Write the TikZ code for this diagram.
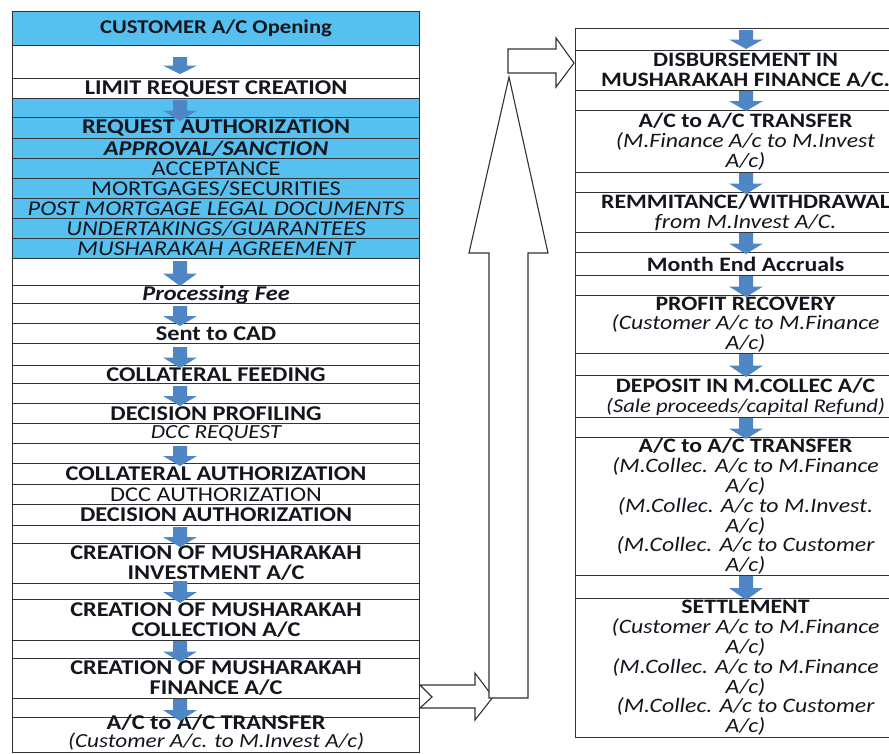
\documentclass[tikz,border=0pt]{standalone}
\usepackage{fontspec}
\setmainfont{Carlito}[FakeStretch=1.16]
\definecolor{cellblue}{RGB}{86,192,240}
\definecolor{arrowblue}{RGB}{79,134,198}
\definecolor{linecol}{RGB}{50,50,50}
\definecolor{txt}{RGB}{20,22,30}
\tikzset{
  cell/.style={draw=linecol, line width=1.1pt, anchor=north west, inner sep=0pt,
    align=center, text=txt},
  lfont/.style={font=\fontsize{21}{20}\selectfont},
  rfont/.style={font=\fontsize{20.5}{19.8}\selectfont},
  bigarrow/.style={draw=linecol, line width=1.1pt, fill=white, line join=miter},
}
\newcommand\rowL[5]{\node[cell, lfont, fill=#4, minimum width=407pt, minimum height={(#3-#2)*1pt}] (#1) at (12,#2) {#5};}
\newcommand\rowR[4]{\node[cell, rfont, fill=white, minimum width=340pt, minimum height={(#3-#2)*1pt}] (#1) at (575,#2) {#4};}
\newcommand\dnarrow[3]{\fill[arrowblue] ({#1-7},#2) -- ({#1+7},#2) -- ({#1+7},{(#2+#3)/2}) -- ({#1+17},{(#2+#3)/2}) -- (#1,#3) -- ({#1-17},{(#2+#3)/2}) -- ({#1-7},{(#2+#3)/2}) -- cycle;}
\begin{document}
\begin{tikzpicture}[x=1pt,y=-1pt]
\useasboundingbox (0,0) rectangle (889,753);
\clip (0,0) rectangle (889,753);
\fill[white] (0,0) rectangle (889,753);
% left column
\rowL{L1}{11}{45}{cellblue}{\fontsize{19.5}{20}\selectfont\bfseries CUSTOMER A/C Opening}
\rowL{L2}{45}{78}{white}{}
\rowL{L3}{78}{98}{white}{\bfseries LIMIT REQUEST CREATION}
\rowL{L4}{98}{117}{cellblue}{}
\rowL{L5}{117}{138}{cellblue}{\bfseries REQUEST AUTHORIZATION}
\rowL{L6}{138}{158}{cellblue}{\bfseries\itshape APPROVAL/SANCTION}
\rowL{L7}{158}{178}{cellblue}{ACCEPTANCE}
\rowL{L8}{178}{198}{cellblue}{MORTGAGES/SECURITIES}
\rowL{L9}{198}{218}{cellblue}{\itshape POST MORTGAGE LEGAL DOCUMENTS}
\rowL{L10}{218}{238}{cellblue}{\itshape UNDERTAKINGS/GUARANTEES}
\rowL{L11}{238}{258}{cellblue}{\itshape MUSHARAKAH AGREEMENT}
\rowL{L12}{258}{285}{white}{}
\rowL{L13}{285}{303}{white}{\bfseries\itshape Processing Fee}
\rowL{L14}{303}{323}{white}{}
\rowL{L15}{323}{343}{white}{\bfseries Sent to CAD}
\rowL{L16}{343}{365}{white}{}
\rowL{L17}{365}{383}{white}{\bfseries COLLATERAL FEEDING}
\rowL{L18}{383}{403}{white}{}
\rowL{L19}{403}{423}{white}{\bfseries DECISION PROFILING}
\rowL{L20}{423}{443}{white}{\fontsize{20}{20}\selectfont\itshape DCC REQUEST}
\rowL{L21}{443}{463}{white}{}
\rowL{L22}{463}{484}{white}{\bfseries COLLATERAL AUTHORIZATION}
\rowL{L23}{484}{504}{white}{DCC AUTHORIZATION}
\rowL{L24}{504}{525}{white}{\bfseries DECISION AUTHORIZATION}
\rowL{L25}{525}{543}{white}{}
\rowL{L26}{543}{583}{white}{\bfseries CREATION OF MUSHARAKAH\\\bfseries INVESTMENT A/C}
\rowL{L27}{583}{599}{white}{}
\rowL{L28}{599}{640}{white}{\bfseries CREATION OF MUSHARAKAH\\\bfseries COLLECTION A/C}
\rowL{L29}{640}{658}{white}{}
\rowL{L30}{658}{698}{white}{\bfseries CREATION OF MUSHARAKAH\\\bfseries FINANCE A/C}
\rowL{L31}{698}{717}{white}{}
\rowL{L32}{717}{752}{white}{}
\node[lfont, align=center, text=txt, inner sep=0pt] (L32t) at ([yshift=3pt]L32.center)
  {\bfseries A/C to A/C TRANSFER\\[-2pt]\fontsize{20}{20}\selectfont\itshape (Customer A/c. to M.Invest A/c)};
% right column
\rowR{R1}{28}{50}{}
\rowR{R2}{50}{90}{\bfseries DISBURSEMENT IN\\\bfseries MUSHARAKAH FINANCE A/C.}
\rowR{R3}{90}{110}{}
\rowR{R4}{110}{172}{\bfseries A/C to A/C TRANSFER\\\itshape (M.Finance A/c to M.Invest\\\itshape A/c)}
\rowR{R5}{172}{192}{}
\rowR{R6}{192}{232}{\bfseries REMMITANCE/WITHDRAWAL\\\itshape from M.Invest A/C.}
\rowR{R7}{232}{252}{}
\rowR{R8}{252}{275}{\bfseries Month End Accruals}
\rowR{R9}{275}{295}{}
\rowR{R10}{295}{353}{\bfseries PROFIT RECOVERY\\\itshape (Customer A/c to M.Finance\\\itshape A/c)}
\rowR{R11}{353}{375}{}
\rowR{R12}{375}{417}{\bfseries DEPOSIT IN M.COLLEC A/C\\\fontsize{19.5}{19.8}\selectfont\itshape (Sale proceeds/capital Refund)}
\rowR{R13}{417}{437}{}
\rowR{R14}{437}{575}{\bfseries A/C to A/C TRANSFER\\\itshape (M.Collec. A/c to M.Finance\\\itshape A/c)\\\itshape (M.Collec. A/c to M.Invest.\\\itshape A/c)\\\itshape (M.Collec. A/c to Customer\\\itshape A/c)}
\rowR{R15}{575}{598}{}
\rowR{R16}{598}{737}{\bfseries SETTLEMENT\\\itshape (Customer A/c to M.Finance\\\itshape A/c)\\\itshape (M.Collec. A/c to M.Finance\\\itshape A/c)\\\itshape (M.Collec. A/c to Customer\\\itshape A/c)}
% down arrows, left
\dnarrow{180}{57}{74}
\dnarrow{180}{100}{121}
\dnarrow{180}{261}{286}
\dnarrow{180}{306}{326}
\dnarrow{180}{347}{368}
\dnarrow{180}{386}{406}
\dnarrow{180}{446}{466}
\dnarrow{180}{527}{547}
\dnarrow{180}{581}{603}
\dnarrow{180}{641}{662}
\dnarrow{180}{699}{721}
% down arrows, right
\dnarrow{746}{30}{49}
\dnarrow{746}{91}{111}
\dnarrow{746}{173}{194}
\dnarrow{746}{233}{254}
\dnarrow{746}{276}{297}
\dnarrow{746}{354}{377}
\dnarrow{746}{418}{439}
\dnarrow{746}{576}{600}
% big block arrows
\draw[bigarrow] (420,685) -- (475,685) -- (475,673) -- (493,697) -- (475,720) -- (475,708) -- (420,708) -- (432,697) -- cycle;
\draw[bigarrow] (489,698) -- (489,253) -- (469,253) -- (509,77) -- (548,253) -- (528,253) -- (528,698) -- cycle;
\draw[bigarrow] (508,49) -- (556,49) -- (556,38) -- (574,63) -- (556,87) -- (556,73) -- (508,73) -- cycle;
\end{tikzpicture}
\end{document}
